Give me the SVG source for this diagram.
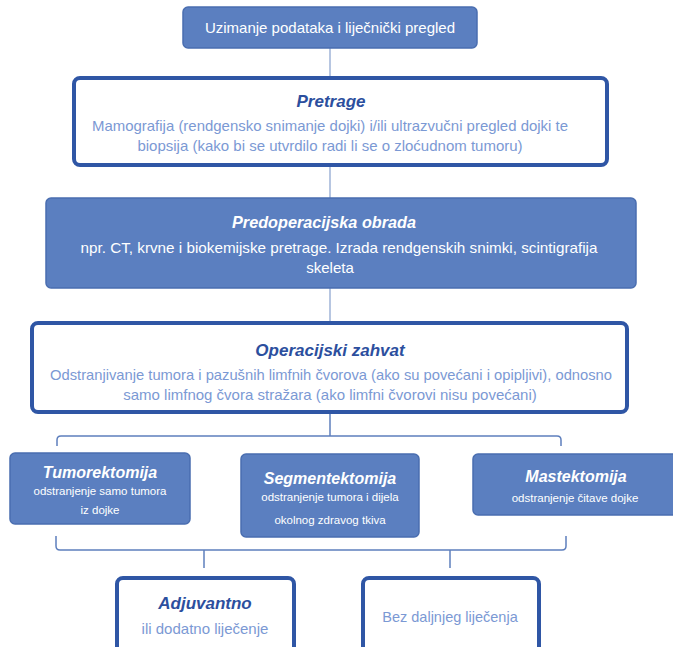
<svg xmlns="http://www.w3.org/2000/svg" width="673" height="647" viewBox="0 0 673 647">
<style>
.fill{fill:#5b7fc0;stroke:#4a6eb0;stroke-width:1.5}
.out{fill:#fff;stroke:#2f56a5;stroke-width:4}
.t{font-family:"Liberation Sans",Arial,sans-serif;text-anchor:middle}
.tw{fill:#fff;font-weight:bold;font-style:italic}
.tb{fill:#2c4f9e;font-weight:bold;font-style:italic}
.bw{fill:#fff}
.bl{fill:#7b99d4}
.c{fill:none;stroke:#5e7fbd;stroke-width:1.5}
</style>
<rect width="673" height="647" fill="#fff"/>
<g id="connectors">
<line class="c" x1="330" y1="48" x2="330" y2="77" stroke-opacity="0.6"/>
<line class="c" x1="330" y1="166" x2="330" y2="198" stroke-opacity="0.6"/>
<line class="c" x1="330" y1="288" x2="330" y2="322" stroke-opacity="0.6"/>
<line class="c" x1="330" y1="414" x2="330" y2="436"/>
<path class="c" d="M57,446 V440 Q57,436 61,436 H557 Q561,436 561,440 V446"/>
<path class="c" d="M56,536 V546 Q56,550 60,550 H562 Q566,550 566,546 V536"/>
<line class="c" x1="204" y1="550" x2="204" y2="568"/>
<line class="c" x1="450" y1="550" x2="450" y2="568"/>
</g>
<g id="n1">
<rect class="fill" x="183" y="7" width="294" height="41" rx="5"/>
<text class="t bw" x="330" y="33" font-size="15">Uzimanje podataka i liječnički pregled</text>
</g>
<g id="n2">
<rect class="out" x="74" y="78" width="533" height="87" rx="6"/>
<text class="t tb" x="331" y="107" font-size="17">Pretrage</text>
<text class="t bl" x="330" y="131" font-size="15" textLength="476" lengthAdjust="spacingAndGlyphs">Mamografija (rendgensko snimanje dojki) i/ili ultrazvučni pregled dojki te</text>
<text class="t bl" x="330" y="151" font-size="15">biopsija (kako bi se utvrdilo radi li se o zloćudnom tumoru)</text>
</g>
<g id="n3">
<rect class="fill" x="46" y="198" width="590" height="90" rx="5"/>
<text class="t tw" x="324" y="228" font-size="17" textLength="184" lengthAdjust="spacingAndGlyphs">Predoperacijska obrada</text>
<text class="t bw" x="339" y="253" font-size="15" textLength="517" lengthAdjust="spacingAndGlyphs">npr. CT, krvne i biokemijske pretrage. Izrada rendgenskih snimki, scintigrafija</text>
<text class="t bw" x="330" y="273" font-size="15">skeleta</text>
</g>
<g id="n4">
<rect class="out" x="32" y="323" width="595" height="89" rx="6"/>
<text class="t tb" x="330" y="356" font-size="17">Operacijski zahvat</text>
<text class="t bl" x="331" y="380" font-size="15" textLength="562" lengthAdjust="spacingAndGlyphs">Odstranjivanje tumora i pazušnih limfnih čvorova (ako su povećani i opipljivi), odnosno</text>
<text class="t bl" x="330" y="400" font-size="15">samo limfnog čvora stražara (ako limfni čvorovi nisu povećani)</text>
</g>
<g id="n5">
<rect class="fill" x="10" y="453" width="180" height="71" rx="5"/>
<text class="t tw" x="100" y="478" font-size="16">Tumorektomija</text>
<text class="t bw" x="100" y="495" font-size="11.5">odstranjenje samo tumora</text>
<text class="t bw" x="100" y="514" font-size="11.5">iz dojke</text>
</g>
<g id="n6">
<rect class="fill" x="241" y="454" width="178" height="83" rx="5"/>
<text class="t tw" x="330" y="484" font-size="16">Segmentektomija</text>
<text class="t bw" x="330" y="501" font-size="11.5">odstranjenje tumora i dijela</text>
<text class="t bw" x="330" y="524" font-size="11.5">okolnog zdravog  tkiva</text>
</g>
<g id="n7">
<rect class="fill" x="473" y="454" width="205" height="61" rx="5"/>
<text class="t tw" x="576" y="482" font-size="16">Mastektomija</text>
<text class="t bw" x="575" y="502" font-size="11.5">odstranjenje čitave dojke</text>
</g>
<g id="n8">
<rect class="out" x="117" y="578" width="177" height="80" rx="6"/>
<text class="t tb" x="205" y="609" font-size="17">Adjuvantno</text>
<text class="t bl" x="205" y="634" font-size="15">ili dodatno liječenje</text>
</g>
<g id="n9">
<rect class="out" x="363" y="578" width="176" height="80" rx="6"/>
<text class="t bl" x="450" y="622" font-size="14.5">Bez daljnjeg liječenja</text>
</g>
</svg>
